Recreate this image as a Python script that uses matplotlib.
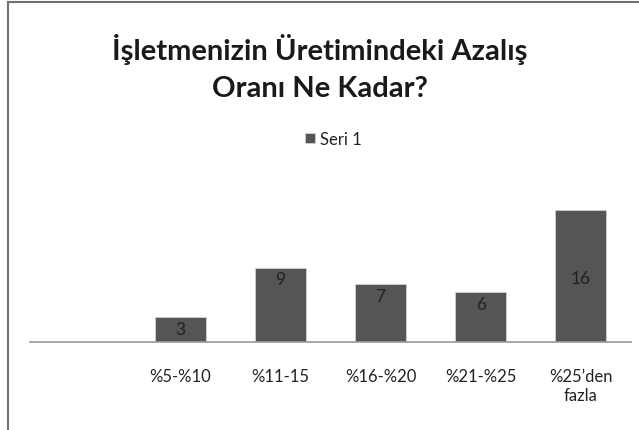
import matplotlib.pyplot as plt
from matplotlib.patches import Rectangle

categories = ['', '%5-%10', '%11-15', '%16-%20', '%21-%25', '%25\u2019den\nfazla']
values = [0, 3, 9, 7, 6, 16]
series_name = 'Seri 1'
title = 'İşletmenizin Üretimindeki Azalış\nOranı Ne Kadar?'

plt.rcParams['font.family'] = ['Lato', 'DejaVu Sans']

fig = plt.figure(figsize=(6.39, 4.31), dpi=100)
ax = fig.add_axes([30 / 639, (431 - 343) / 431, 601 / 639, (343 - 194) / 431])

x = range(len(categories))
bars = ax.bar(x, values, width=0.51, color='#555558', edgecolor='#d0d0d0',
              linewidth=0.6, label=series_name)

# etiquetes de valor dins la barra
for xi, v in zip(x, values):
    if v:
        ax.text(xi, min(v - 1.4, 7.75), str(v), ha='center', va='center',
                fontsize=12.5, color='#222222')

ax.set_xlim(-0.5, len(categories) - 0.5)
ax.set_ylim(0, 18)
ax.set_xticks(list(x))
ax.set_xticklabels(categories, fontsize=12, color='#222222', linespacing=1.2)
ax.tick_params(axis='x', length=0, pad=19)
ax.set_yticks([])
for s in ['top', 'right', 'left']:
    ax.spines[s].set_visible(False)
ax.spines['bottom'].set_color('#9a9a9a')
ax.spines['bottom'].set_linewidth(1.2)

fig.text(0.5, 1 - 68 / 431, title, ha='center', va='center', fontsize=21,
         fontweight='bold', color='#1a1a1a', linespacing=1.55)

leg = fig.legend(handles=[bars], labels=[series_name], loc='center',
                 bbox_to_anchor=(333 / 639, 1 - 140 / 431), frameon=False,
                 fontsize=12, handlelength=0.6, handleheight=0.6,
                 handletextpad=0.3)
for t in leg.get_texts():
    t.set_color('#222222')

# marc del gràfic (tallat a la dreta i a baix)
fig.patches.append(Rectangle((8 / 639, -0.1), 1.2, 1 - 3 / 431 + 0.1,
                             transform=fig.transFigure, fill=False,
                             edgecolor='#707070', linewidth=1.5))

fig.savefig('out.png', dpi=100)
